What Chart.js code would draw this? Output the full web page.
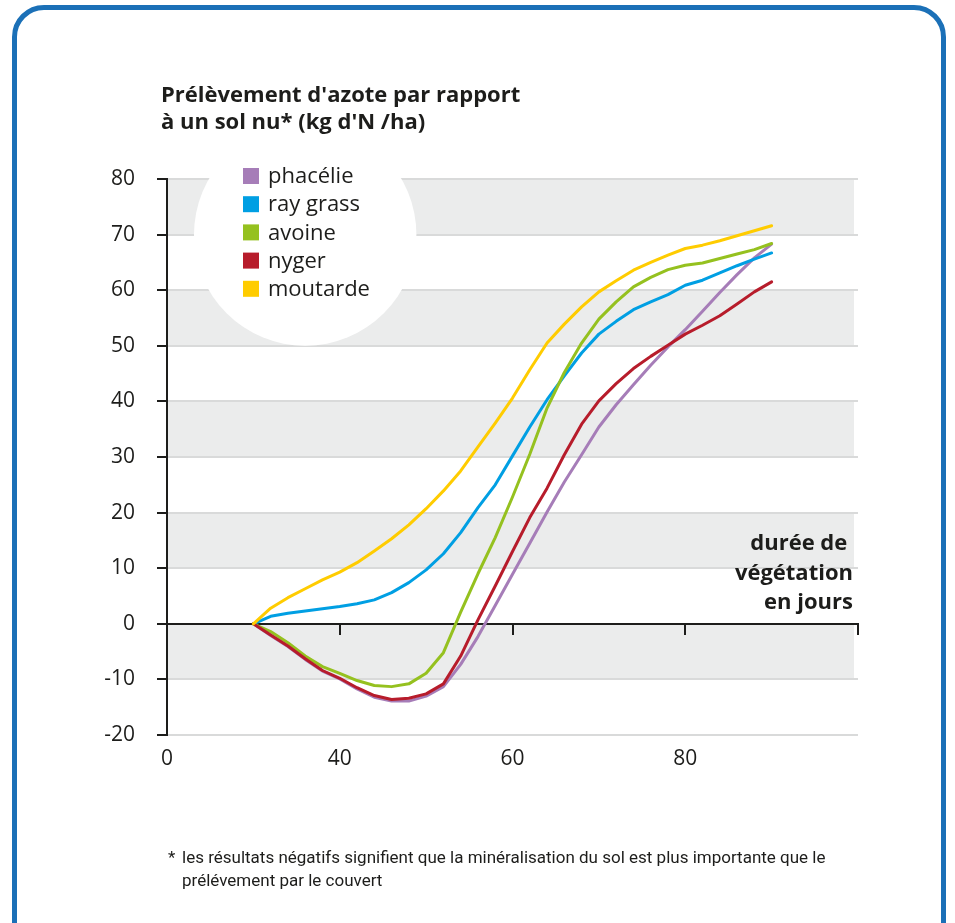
<!DOCTYPE html>
<html>
<head>
<meta charset="utf-8">
<script src="https://cdn.jsdelivr.net/npm/chart.js@4.4.0/dist/chart.umd.min.js"></script>
<style>
  html, body { margin: 0; padding: 0; background: #fff; }
  body { width: 955px; height: 923px; overflow: hidden; position: relative; }
  #frame { position: absolute; left: 12px; top: 5px; width: 924px; height: 960px;
           border: 5px solid #1b70b7; border-radius: 32px; }
  #azote { position: absolute; left: 0; top: 0; }
</style>
</head>
<body>
<div id="frame"></div>
<canvas id="azote" width="955" height="923"></canvas>
<script>
// durée de végétation (jours)
var days = [30, 32, 34, 36, 38, 40, 42, 44, 46, 48, 50, 52, 54, 56, 58, 60,
            62, 64, 66, 68, 70, 72, 74, 76, 78, 80, 82, 84, 86, 88, 90];

// prélèvement d'azote par rapport à un sol nu (kg N/ha)
var phacelie = [0, -2.1, -4.1, -6.4, -8.5, -9.9, -11.7, -13.2, -13.9, -13.9, -13.0, -11.3, -7.3, -2.3, 3.3, 8.9,
                14.5, 20.1, 25.5, 30.4, 35.4, 39.4, 43.0, 46.5, 49.8, 52.9, 56.2, 59.6, 62.8, 65.8, 68.3];
var rayGrass = [0, 1.35, 1.9, 2.3, 2.7, 3.1, 3.6, 4.3, 5.6, 7.4, 9.7, 12.6, 16.4, 20.9, 25.0, 30.2,
                35.4, 40.3, 44.6, 48.7, 52.1, 54.4, 56.5, 57.9, 59.2, 60.9, 61.8, 63.1, 64.4, 65.6, 66.7];
var avoine = [0, -1.4, -3.4, -5.8, -7.7, -8.9, -10.2, -11.1, -11.3, -10.8, -8.9, -5.2, 2.1, 9.0, 15.5, 22.8,
              30.5, 38.8, 45.2, 50.5, 54.8, 57.9, 60.6, 62.3, 63.7, 64.5, 64.9, 65.7, 66.5, 67.3, 68.4];
var nyger = [0, -2.0, -4.0, -6.3, -8.4, -9.8, -11.5, -12.9, -13.6, -13.4, -12.6, -10.8, -5.8, 0.7, 6.8, 13.0,
             19.1, 24.4, 30.4, 35.9, 40.1, 43.2, 45.9, 48.1, 50.1, 52.1, 53.7, 55.4, 57.5, 59.7, 61.5];
var moutarde = [0, 2.8, 4.7, 6.3, 7.9, 9.3, 11.0, 13.1, 15.3, 17.8, 20.7, 23.9, 27.5, 31.8, 36.1, 40.6,
                45.7, 50.5, 53.9, 57.0, 59.7, 61.7, 63.6, 65.0, 66.3, 67.5, 68.1, 68.9, 69.8, 70.7, 71.6];

// labels du graphique d'origine (axe x coupé)
var xTickLabels = ['0', '40', '60', '80', ''];

var ink = '#1d1d1b';

function pts(values) {
    return values.map(function (v, i) { return { x: days[i], y: v }; });
}

var decor = {
    id: 'decor',
    beforeDraw: function (chart) {
        var ctx = chart.ctx, a = chart.chartArea, y = chart.scales.y;
        ctx.save();
        ctx.fillStyle = '#ebecec';
        for (var v = -10; v < 80; v += 20) {
            var top = y.getPixelForValue(v + 10), bot = y.getPixelForValue(v);
            ctx.fillRect(a.left, top, a.right - a.left - 4, bot - top);
        }
        ctx.restore();
    },
    beforeDatasetsDraw: function (chart) {
        var ctx = chart.ctx, x = chart.scales.x, y = chart.scales.y;
        var cy = y.getPixelForValue(70);
        var r = y.getPixelForValue(50) - cy;
        ctx.save();
        ctx.fillStyle = '#ffffff';
        ctx.beginPath();
        ctx.arc(x.getPixelForValue(36), cy, r, 0, Math.PI * 2);
        ctx.fill();
        ctx.restore();
    },
    afterDraw: function (chart) {
        var ctx = chart.ctx, y = chart.scales.y;
        ctx.save();
        ctx.fillStyle = ink;
        ctx.textAlign = 'left';
        ctx.textBaseline = 'alphabetic';

        // titre
        ctx.font = 'bold 22px "Open Sans"';
        ctx.fillText("Prélèvement d'azote par rapport", 161, 102, 360);
        ctx.fillText("à un sol nu* (kg d'N /ha)", 161, 129, 360);

        // légende
        var row0 = y.getPixelForValue(80) - 3;
        ctx.font = '22px "Open Sans"';
        ctx.textBaseline = 'middle';
        chart.data.datasets.forEach(function (ds, i) {
            var cy = row0 + i * 28.2;
            ctx.fillStyle = ds.borderColor;
            ctx.fillRect(243, cy - 8, 16, 16);
            ctx.fillStyle = ink;
            ctx.fillText(ds.label, 268, cy + 1);
        });

        // titre de l'axe x
        ctx.font = 'bold 22px "Open Sans"';
        ctx.textAlign = 'right';
        ctx.textBaseline = 'alphabetic';
        ctx.fillText('durée de ', 853, 550);
        ctx.fillText('végétation', 853, 580);
        ctx.fillText('en jours', 853, 609);

        // note
        ctx.textAlign = 'left';
        ctx.font = '17px Roboto';
        ctx.fillText('*', 168, 863);
        ctx.fillText('les résultats négatifs signifient que la minéralisation du sol est plus importante que le', 182, 863, 648);
        ctx.fillText('prélévement par le couvert', 182, 886);
        ctx.restore();
    }
};

var tickFont = { family: 'Open Sans', size: 21 };

var ctx = document.getElementById('azote');
var myChart = new Chart(ctx, {
    type: 'line',
    plugins: [decor],
    data: {
        datasets: [
            { label: 'phacélie', data: pts(phacelie), borderColor: '#a67db8', order: 5 },
            { label: 'ray grass', data: pts(rayGrass), borderColor: '#009fe3', order: 4 },
            { label: 'avoine', data: pts(avoine), borderColor: '#95c11f', order: 3 },
            { label: 'nyger', data: pts(nyger), borderColor: '#b71c2b', order: 2 },
            { label: 'moutarde', data: pts(moutarde), borderColor: '#ffcc00', order: 1 },
        ]
    },
    options: {
        responsive: false,
        animation: false,
        layout: {
            padding: { left: 97, right: 97, top: 179, bottom: 148 },
        },
        elements: {
            line: { borderWidth: 3, tension: 0, borderJoinStyle: 'round', borderCapStyle: 'round' },
            point: { radius: 0, hoverRadius: 0 },
        },
        plugins: {
            legend: { display: false },
            tooltip: { enabled: false },
        },
        scales: {
            x: {
                type: 'linear',
                position: { y: 0 },
                min: 20,
                max: 100,
                ticks: { stepSize: 20, display: false },
                grid: { drawOnChartArea: false, color: ink, lineWidth: 2, tickLength: 10 },
                border: { color: ink, width: 2 },
                afterFit: function (s) { s.paddingLeft = 0; s.paddingRight = 0; },
            },
            x2: {
                type: 'linear',
                position: 'bottom',
                min: 20,
                max: 100,
                ticks: {
                    stepSize: 20,
                    autoSkip: false,
                    maxRotation: 0,
                    padding: 11,
                    color: ink,
                    font: tickFont,
                    callback: function (value, index) { return xTickLabels[index]; },
                },
                grid: { display: false, drawTicks: false },
                border: { display: false },
                afterFit: function (s) { s.height = 40; s.paddingLeft = 0; s.paddingRight = 0; },
            },
            y: {
                min: -20,
                max: 80,
                ticks: { stepSize: 10, padding: 22, color: ink, font: tickFont },
                grid: {
                    color: function (c) { return c.tick && c.tick.value === 0 ? 'rgba(0,0,0,0)' : '#d9dada'; },
                    tickColor: ink,
                    lineWidth: 2,
                    tickLength: 10,
                },
                border: { color: ink, width: 2 },
                afterFit: function (s) { s.width = 70; s.paddingTop = 0; s.paddingBottom = 0; },
            },
        },
    },
});
</script>
</body>
</html>
